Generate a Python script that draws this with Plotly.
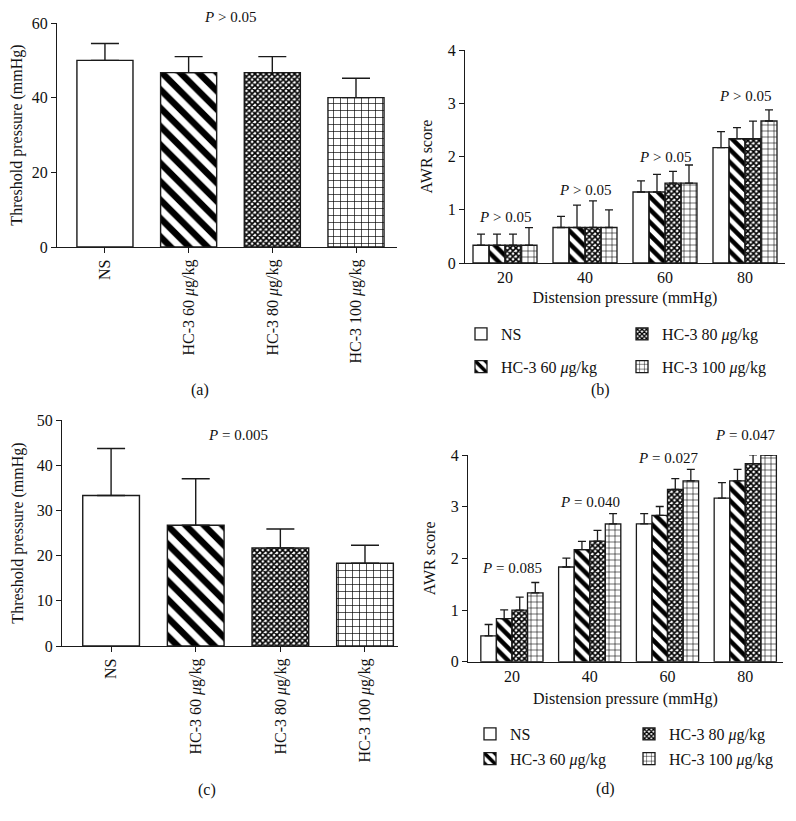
import plotly.graph_objects as go

# page body keeps an 8px margin, so the figure is 16px smaller than the window
W, H = 780, 805
OFF = 8
FONT = "Liberation Serif"

# ---- data ----
group_names = ["NS", "HC-3 60 <i>μ</i>g/kg", "HC-3 80 <i>μ</i>g/kg", "HC-3 100 <i>μ</i>g/kg"]
pressures = [20, 40, 60, 80]

# (a) threshold pressure, first experiment
thr_a_mean = [50.0, 46.7, 46.7, 40.0]
thr_a_err = [4.5, 4.3, 4.3, 5.2]
p_text_a = "<i>P</i> > 0.05"

# (c) threshold pressure, second experiment
thr_c_mean = [33.3, 26.7, 21.7, 18.3]
thr_c_err = [10.4, 10.3, 4.2, 4.0]
p_text_c = "<i>P</i> = 0.005"

# (b) AWR score by distension pressure
awr_b_ns = [0.333, 0.667, 1.333, 2.167]
awr_b_hc60 = [0.333, 0.667, 1.333, 2.333]
awr_b_hc80 = [0.333, 0.667, 1.5, 2.333]
awr_b_hc100 = [0.333, 0.667, 1.5, 2.667]
awr_b_ns_err = [0.21, 0.21, 0.21, 0.30]
awr_b_hc60_err = [0.21, 0.42, 0.33, 0.21]
awr_b_hc80_err = [0.21, 0.50, 0.22, 0.33]
awr_b_hc100_err = [0.33, 0.33, 0.34, 0.21]
p_text_b = ["<i>P</i> > 0.05"] * 4
p_y_b = [0.86, 1.37, 2.0, 3.13]

# (d) AWR score by distension pressure
awr_d_ns = [0.5, 1.833, 2.667, 3.167]
awr_d_hc60 = [0.833, 2.167, 2.833, 3.5]
awr_d_hc80 = [1.0, 2.333, 3.333, 3.833]
awr_d_hc100 = [1.333, 2.667, 3.5, 4.0]
awr_d_ns_err = [0.22, 0.17, 0.20, 0.30]
awr_d_hc60_err = [0.17, 0.16, 0.17, 0.22]
awr_d_hc80_err = [0.25, 0.21, 0.21, 0.17]
awr_d_hc100_err = [0.20, 0.20, 0.22, 0.0]
p_text_d = ["<i>P</i> = 0.085", "<i>P</i> = 0.040", "<i>P</i> = 0.027", "<i>P</i> = 0.047"]
p_y_d = [1.81, 3.09, 3.94, 4.39]

# ---- styling ----
# NS plain, 60 diagonal stripes, 80 dark fine hatch, 100 brick-like grid
shapes_ = ["", "\\", "x", "+"]
big_size = [14, 13, 4, 7]
small_size = [14, 9, 4, 6]
solid = [0.3, 0.5, 0.65, 0.18]
LINE = "#1a1a1a"


def px_x(p):
    return (p - OFF) / W


def px_y(p):
    return 1 - (p - OFF) / H


fig = go.Figure()

# single-series panels (a) and (c)
for mean, err, xa, ya in [(thr_a_mean, thr_a_err, "x", "y"),
                          (thr_c_mean, thr_c_err, "x3", "y3")]:
    fig.add_trace(go.Bar(
        x=[0, 1, 2, 3], y=mean, width=0.67, xaxis=xa, yaxis=ya, showlegend=False,
        marker=dict(color="white", line=dict(color=LINE, width=1.4),
                    pattern=dict(shape=shapes_, size=big_size, solidity=solid,
                                 fgcolor="black", fgopacity=1)),
        error_y=dict(type="data", symmetric=False, array=err, arrayminus=[0] * 4,
                     color=LINE, thickness=1.4, width=14),
    ))

# grouped panels (b) and (d)
b_means = [awr_b_ns, awr_b_hc60, awr_b_hc80, awr_b_hc100]
b_errs = [awr_b_ns_err, awr_b_hc60_err, awr_b_hc80_err, awr_b_hc100_err]
d_means = [awr_d_ns, awr_d_hc60, awr_d_hc80, awr_d_hc100]
d_errs = [awr_d_ns_err, awr_d_hc60_err, awr_d_hc80_err, awr_d_hc100_err]

for means, errs, xa, ya, legs in [(b_means, b_errs, "x2", "y2", ["legend", "legend2"]),
                                  (d_means, d_errs, "x4", "y4", ["legend3", "legend4"])]:
    for i, name in enumerate(group_names):
        fig.add_trace(go.Bar(
            x=pressures, y=means[i], name=name, xaxis=xa, yaxis=ya,
            legend=legs[i // 2], legendgroup=f"{xa}{i}",
            marker=dict(color="white", line=dict(color=LINE, width=1.3),
                        pattern=dict(shape=shapes_[i], size=small_size[i],
                                     solidity=solid[i], fgcolor="black", fgopacity=1)),
            error_y=dict(type="data", symmetric=False, array=errs[i],
                         arrayminus=[0] * 4, color=LINE, thickness=1.3, width=4),
        ))

axis_common = dict(showline=True, linecolor=LINE, linewidth=1.3, ticks="outside",
                   ticklen=5, tickwidth=1.3, tickcolor=LINE, showgrid=False,
                   zeroline=False, automargin=False,
                   tickfont=dict(family=FONT, size=16, color="#111"))
no_ticks = {k: v for k, v in axis_common.items() if k != "ticks"}
title_font = dict(family=FONT, size=16, color="#111")

cat_ticks = dict(tickmode="array", tickvals=[0, 1, 2, 3], ticktext=group_names,
                 tickangle=-90)

fig.update_layout(
    template="none",
    width=W, height=H, paper_bgcolor="white", plot_bgcolor="white",
    margin=dict(l=0, r=0, t=0, b=0, pad=0),
    barmode="group", bargap=0.2, bargroupgap=0,
    font=dict(family=FONT, size=16, color="#111"),
    xaxis=dict(domain=[px_x(57), px_x(397)], anchor="y", range=[-0.573, 3.49],
               **cat_ticks, **axis_common),
    yaxis=dict(domain=[px_y(247), px_y(23)], anchor="x", range=[0, 60], dtick=20,
               title=dict(text="Threshold pressure (mmHg)", font=title_font, standoff=9),
               **axis_common),
    xaxis2=dict(domain=[px_x(465), px_x(785)], anchor="y2", range=[10, 90],
                tickvals=pressures, ticks="", **no_ticks,
                title=dict(text="Distension pressure (mmHg)", font=title_font, standoff=6)),
    yaxis2=dict(domain=[px_y(263), px_y(50)], anchor="x2", range=[0, 4], dtick=1,
                title=dict(text="AWR score", font=title_font, standoff=11),
                **axis_common),
    xaxis3=dict(domain=[px_x(62), px_x(398)], anchor="y3", range=[-0.58, 3.39],
                **cat_ticks, **axis_common),
    yaxis3=dict(domain=[px_y(646), px_y(420)], anchor="x3", range=[0, 50], dtick=10,
                title=dict(text="Threshold pressure (mmHg)", font=title_font, standoff=9),
                **axis_common),
    xaxis4=dict(domain=[px_x(468), px_x(783)], anchor="y4", range=[8.7, 89.7],
                tickvals=pressures, ticks="", **no_ticks,
                title=dict(text="Distension pressure (mmHg)", font=title_font, standoff=8)),
    yaxis4=dict(domain=[px_y(661.7), px_y(455)], anchor="x4", range=[0, 4], dtick=1,
                title=dict(text="AWR score", font=title_font, standoff=11),
                **axis_common),
)

leg_common = dict(xanchor="left", yanchor="top", bgcolor="rgba(0,0,0,0)",
                  borderwidth=0, font=dict(family=FONT, size=16, color="#111"),
                  itemclick=False)
fig.update_layout(
    legend=dict(x=px_x(461), y=px_y(317), tracegroupgap=9, **leg_common),
    legend2=dict(x=px_x(622), y=px_y(317), tracegroupgap=9, **leg_common),
    legend3=dict(x=px_x(470), y=px_y(717), tracegroupgap=1, **leg_common),
    legend4=dict(x=px_x(629), y=px_y(717), tracegroupgap=1, **leg_common),
)

ann = dict(showarrow=False, xanchor="center", yanchor="middle")

# P-value labels
fig.add_annotation(x=1.494, y=px_y(17), xref="x", yref="paper", text=p_text_a,
                   font=dict(size=15), **ann)
fig.add_annotation(x=1.498, y=46.6, xref="x3", yref="y3", text=p_text_c,
                   font=dict(size=15), **ann)
for xv, yv, t in zip(pressures, p_y_b, p_text_b):
    fig.add_annotation(x=xv, y=yv, xref="x2", yref="y2", text=t,
                       font=dict(size=15), **ann)
for xv, yv, t in zip(pressures, p_y_d, p_text_d):
    # the last label sits above the axis range, so pin it with the domain ref
    fig.add_annotation(x=xv, y=yv / 4, xref="x4", yref="y4 domain", text=t,
                       font=dict(size=15), **ann)

# panel letters
for lab, xp, yp in [("(a)", 200, 390), ("(b)", 600, 390), ("(c)", 207, 790), ("(d)", 605, 789)]:
    fig.add_annotation(x=px_x(xp), y=px_y(yp), xref="paper", yref="paper", text=lab,
                       font=dict(size=16), **ann)

fig.write_html("out.html")
